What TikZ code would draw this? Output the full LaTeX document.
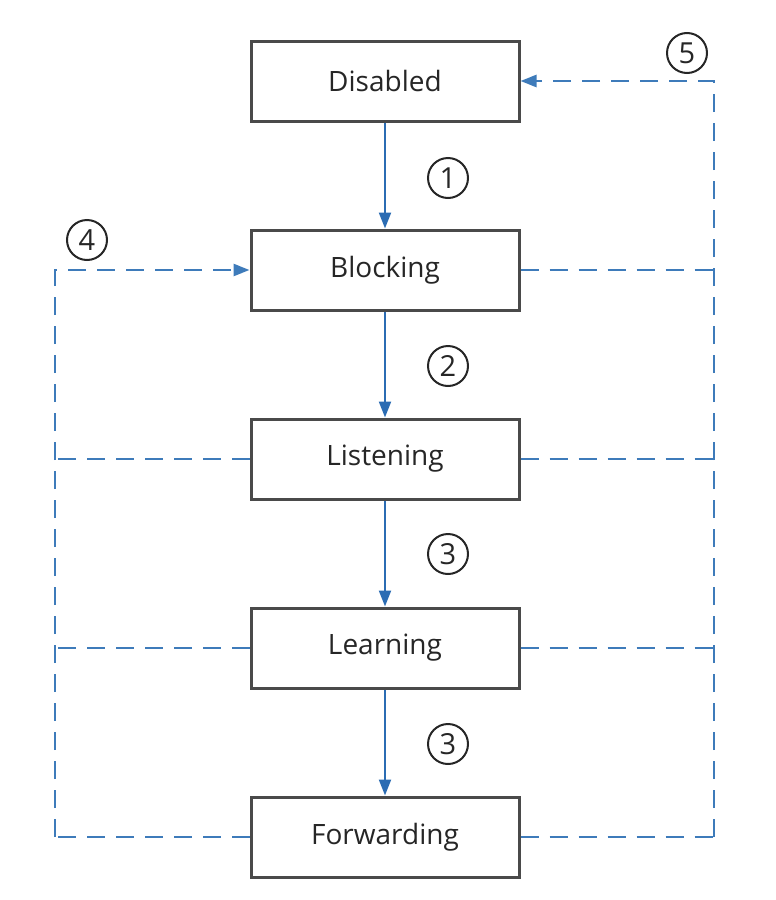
\documentclass[tikz,border=0pt]{standalone}
\usepackage{fontspec}
\setmainfont{Open Sans}
\usetikzlibrary{arrows.meta}
\definecolor{solidblue}{HTML}{2B6CB3}
\definecolor{dashblue}{HTML}{3E7BBA}
\definecolor{boxgray}{HTML}{4A4A4A}
\begin{document}
\begin{tikzpicture}[x=1pt,y=-1pt,
  state/.style={draw=boxgray,line width=3pt,fill=white,minimum width=268pt,minimum height=80pt,inner sep=0pt,font=\fontsize{28}{30}\selectfont,text=black!85},
  num/.style={draw=black!85,line width=2pt,circle,minimum size=40pt,inner sep=0pt,font=\fontsize{29}{30}\selectfont,text=black!85},
  flow/.style={solidblue,line width=2.2pt,-{Triangle[length=16pt,width=12pt]}},
  back/.style={dashblue,line width=2.6pt,dash pattern=on 18pt off 11pt},
  backarrow/.style={back,-{Triangle[length=16pt,width=12pt]}}]
\useasboundingbox (0,0) rectangle (776,900);
\node[state] (dis) at (385,81) {Disabled};
\node[state] (blk) at (385,270) {Blocking};
\node[state] (lis) at (385,459) {Listening};
\node[state] (lrn) at (385,648) {Learning};
\node[state] (fwd) at (385,837) {Forwarding};
\draw[flow] (dis) -- (blk);
\draw[flow] (blk) -- (lis);
\draw[flow] (lis) -- (lrn);
\draw[flow] (lrn) -- (fwd);
\node[num] (n1) at (448,178) {1};
\node[num] (n2) at (448,366) {2};
\node[num] (n3a) at (448,554) {3};
\node[num] (n3b) at (448,744) {3};
\node[num] (n4) at (87,240) {4};
\node[num] (n5) at (687,53) {5};
\coordinate (rtop) at (714,81);
\coordinate (rblk) at (714,270);
\coordinate (rlis) at (714,459);
\coordinate (rlrn) at (714,648);
\coordinate (rbot) at (714,837);
\coordinate (ltop) at (55,270);
\coordinate (llis) at (55,459);
\coordinate (llrn) at (55,648);
\coordinate (lbot) at (55,837);
\draw[back] (fwd.east) -- (rbot);
\draw[backarrow] (rbot) -- (rtop) -- (dis.east);
\draw[back] (blk.east) -- (rblk);
\draw[back] (lis.east) -- (rlis);
\draw[back] (lrn.east) -- (rlrn);
\draw[back] (fwd.west) -- (lbot);
\draw[backarrow] (lbot) -- (ltop) -- (blk.west);
\draw[back] (lis.west) -- (llis);
\draw[back] (lrn.west) -- (llrn);
\end{tikzpicture}
\end{document}
